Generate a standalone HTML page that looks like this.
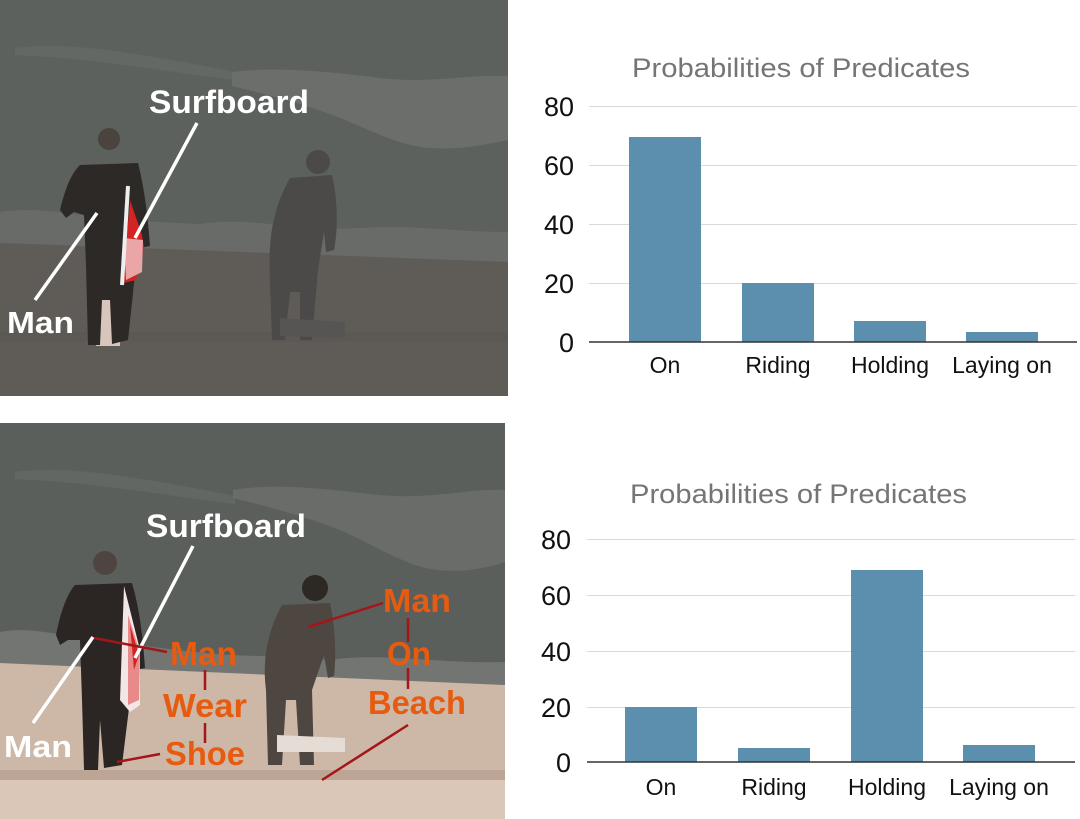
<!DOCTYPE html>
<html>
<head>
<meta charset="utf-8">
<style>
  html,body{margin:0;padding:0;background:#fff;}
  svg{display:block;}
  .ct{font-family:"Liberation Sans",Arial,sans-serif;}
  .lb{font-family:"Liberation Sans",Arial,sans-serif;font-weight:bold;}
</style>
</head>
<body>
<svg width="1080" height="819" viewBox="0 0 1080 819" xmlns="http://www.w3.org/2000/svg">
  <rect x="0" y="0" width="1080" height="819" fill="#ffffff"/>

  <!-- ================= TOP PHOTO ================= -->
  <g>
    <rect x="0" y="0" width="508" height="396" fill="#5d615e"/>
    <!-- thin wave crest left -->
    <path d="M15,48 C60,42 110,50 160,58 C190,63 215,68 235,72 L235,80 C200,76 150,68 100,62 C60,57 30,56 15,55Z" fill="#646865"/>
    <!-- big wave -->
    <path d="M232,72 C280,66 330,72 380,78 C430,84 470,74 508,76 L508,140 C480,146 455,150 430,148 C400,146 370,130 340,118 C305,104 265,94 232,86Z" fill="#6b6e6b"/>
    <!-- foam near horizon -->
    <path d="M0,212 C40,206 80,216 120,220 L200,224 C250,216 300,232 360,228 C410,224 450,232 508,232 L508,262 L0,243Z" fill="#686b68"/>
    <!-- beach -->
    <path d="M0,243 L508,262 L508,396 L0,396Z" fill="#5f5c58"/>
    <rect x="0" y="332" width="508" height="10" fill="#5c5955"/>

    <!-- man 2 faded -->
    <g fill="#4b4a48">
      <circle cx="318" cy="162" r="12"/>
      <path d="M290,178 L332,175 C338,200 338,230 334,250 L326,252 L324,232 L318,270 L312,340 L300,340 L300,292 L290,292 L285,340 L272,340 L270,282 C268,240 272,210 290,178Z"/>
    </g>
    <path d="M280,318 L345,322 L345,338 L280,336Z" fill="#575553"/>

    <!-- man 1 -->
    <path d="M98,255 L122,255 L120,346 L96,346Z" fill="#d8c6bc"/>
    <circle cx="109" cy="139" r="11" fill="#4a433e"/>
    <path d="M80,165 L138,163 C145,190 148,220 150,246 L140,248 L136,218 L136,265 L128,340 L112,344 L110,300 L102,300 L100,345 L88,345 L86,265 L84,215 L74,212 L66,218 L60,210 C65,190 70,175 80,165Z" fill="#2d2926"/>
    <!-- surfboard -->
    <path d="M130,200 L142,235 L144,248 L136,280 L123,283 Z" fill="#d42323"/>
    <path d="M124,238 L143,240 L142,272 L126,280Z" fill="#eaa6a6"/>
    <line x1="128" y1="186" x2="122" y2="285" stroke="#eeeeee" stroke-width="4"/>

    <!-- labels -->
    <line x1="197" y1="123" x2="135" y2="238" stroke="#ffffff" stroke-width="3.5"/>
    <line x1="97" y1="213" x2="35" y2="300" stroke="#ffffff" stroke-width="3.5"/>
    <text class="lb" x="149" y="113" font-size="32" fill="#ffffff" textLength="160" lengthAdjust="spacingAndGlyphs">Surfboard</text>
    <text class="lb" x="7" y="333" font-size="31" fill="#ffffff" textLength="67" lengthAdjust="spacingAndGlyphs">Man</text>
  </g>

  <!-- ================= BOTTOM PHOTO ================= -->
  <g>
    <rect x="0" y="423" width="505" height="396" fill="#5b5f5b"/>
    <path d="M15,472 C60,466 110,474 160,482 C190,487 215,492 235,496 L235,504 C200,500 150,492 100,486 C60,481 30,480 15,479Z" fill="#636763"/>
    <path d="M233,490 C280,482 330,490 380,495 C430,500 470,488 505,490 L505,562 C480,570 455,574 425,568 C395,560 365,540 335,528 C300,515 262,505 233,498Z" fill="#696c69"/>
    <!-- foam -->
    <path d="M0,632 C30,626 60,636 100,640 C150,646 200,655 260,656 L330,660 C380,652 440,664 505,662 L505,685 L0,663Z" fill="#727572"/>
    <!-- sand -->
    <path d="M0,663 L505,685 L505,819 L0,819Z" fill="#cdb7a6"/>
    <rect x="0" y="770" width="505" height="10" fill="#bda595"/>
    <rect x="0" y="780" width="505" height="39" fill="#dbc7b7"/>

    <!-- man 2 -->
    <circle cx="315" cy="588" r="13" fill="#2e2824"/>
    <path d="M282,605 L330,603 C336,630 336,660 334,676 L328,678 L324,655 L312,690 L314,765 L300,765 L296,700 L286,700 L282,765 L268,765 L266,690 C262,660 268,630 282,605Z" fill="#4e4641"/>
    <path d="M277,735 L345,738 L345,752 L277,752Z" fill="#e6dcd6"/>

    <!-- man 1 -->
    <circle cx="105" cy="563" r="12" fill="#4f4540"/>
    <path d="M75,585 L132,583 C140,610 143,640 145,668 L136,670 L132,640 L130,700 L122,765 L104,768 L100,720 L98,770 L84,770 L82,700 L80,640 L68,640 L60,645 L56,635 C60,615 66,595 75,585Z" fill="#2b2623"/>
    <path d="M124,586 L140,650 L140,705 L130,712 L120,700Z" fill="#f2e6e6"/>
    <path d="M128,615 L140,652 L139,700 L128,705Z" fill="#e88a8a"/>
    <path d="M130,625 L139,655 L134,670Z" fill="#d42323"/>

    <!-- white labels -->
    <line x1="193" y1="546" x2="135" y2="658" stroke="#ffffff" stroke-width="3.5"/>
    <line x1="93" y1="637" x2="33" y2="723" stroke="#ffffff" stroke-width="3.5"/>
    <text class="lb" x="146" y="537" font-size="32" fill="#ffffff" textLength="160" lengthAdjust="spacingAndGlyphs">Surfboard</text>
    <text class="lb" x="4" y="757" font-size="31" fill="#ffffff" textLength="68" lengthAdjust="spacingAndGlyphs">Man</text>

    <!-- red connectors -->
    <g stroke="#a3161a" stroke-width="2.5">
      <line x1="94" y1="638" x2="167" y2="652"/>
      <line x1="205" y1="670" x2="205" y2="690"/>
      <line x1="205" y1="723" x2="205" y2="743"/>
      <line x1="117" y1="762" x2="160" y2="754"/>
      <line x1="308" y1="627" x2="383" y2="603"/>
      <line x1="408" y1="618" x2="408" y2="642"/>
      <line x1="408" y1="668" x2="408" y2="689"/>
      <line x1="408" y1="725" x2="322" y2="780"/>
    </g>
    <!-- orange labels -->
    <g class="lb" font-size="33" fill="#e75b10">
      <text x="170" y="665" textLength="67" lengthAdjust="spacingAndGlyphs">Man</text>
      <text x="163" y="717" textLength="84" lengthAdjust="spacingAndGlyphs">Wear</text>
      <text x="165" y="765" textLength="80" lengthAdjust="spacingAndGlyphs">Shoe</text>
      <text x="383" y="612" textLength="68" lengthAdjust="spacingAndGlyphs">Man</text>
      <text x="387" y="665" textLength="44" lengthAdjust="spacingAndGlyphs">On</text>
      <text x="368" y="714" textLength="98" lengthAdjust="spacingAndGlyphs">Beach</text>
    </g>
  </g>

  <!-- ================= TOP CHART ================= -->
  <g class="ct">
    <text x="632" y="77" font-size="27" fill="#757575" textLength="338" lengthAdjust="spacingAndGlyphs">Probabilities of Predicates</text>
    <g stroke="#d9d9d9" stroke-width="1">
      <line x1="589" y1="106.5" x2="1077" y2="106.5"/>
      <line x1="589" y1="165.5" x2="1077" y2="165.5"/>
      <line x1="589" y1="224.5" x2="1077" y2="224.5"/>
      <line x1="589" y1="283.5" x2="1077" y2="283.5"/>
    </g>
    <g fill="#5b8fad">
      <rect x="629" y="137" width="72" height="205"/>
      <rect x="742" y="283" width="72" height="59"/>
      <rect x="854" y="321" width="72" height="21"/>
      <rect x="966" y="332" width="72" height="10"/>
    </g>
    <line x1="589" y1="342" x2="1077" y2="342" stroke="#333333" stroke-width="1.5"/>
    <g font-size="27" fill="#111111" text-anchor="end">
      <text x="574" y="116">80</text>
      <text x="574" y="175">60</text>
      <text x="574" y="234">40</text>
      <text x="574" y="293">20</text>
      <text x="574" y="352">0</text>
    </g>
    <g font-size="23" fill="#111111" text-anchor="middle">
      <text x="665" y="373">On</text>
      <text x="778" y="373">Riding</text>
      <text x="890" y="373">Holding</text>
      <text x="1002" y="373">Laying on</text>
    </g>
  </g>

  <!-- ================= BOTTOM CHART ================= -->
  <g class="ct">
    <text x="630" y="503" font-size="27" fill="#757575" textLength="337" lengthAdjust="spacingAndGlyphs">Probabilities of Predicates</text>
    <g stroke="#d9d9d9" stroke-width="1">
      <line x1="587" y1="539.5" x2="1075" y2="539.5"/>
      <line x1="587" y1="595.5" x2="1075" y2="595.5"/>
      <line x1="587" y1="651.5" x2="1075" y2="651.5"/>
      <line x1="587" y1="707.5" x2="1075" y2="707.5"/>
    </g>
    <g fill="#5b8fad">
      <rect x="625" y="707" width="72" height="55"/>
      <rect x="738" y="748" width="72" height="14"/>
      <rect x="851" y="570" width="72" height="192"/>
      <rect x="963" y="745" width="72" height="17"/>
    </g>
    <line x1="587" y1="762" x2="1075" y2="762" stroke="#333333" stroke-width="1.5"/>
    <g font-size="27" fill="#111111" text-anchor="end">
      <text x="571" y="549">80</text>
      <text x="571" y="605">60</text>
      <text x="571" y="661">40</text>
      <text x="571" y="717">20</text>
      <text x="571" y="772">0</text>
    </g>
    <g font-size="23" fill="#111111" text-anchor="middle">
      <text x="661" y="795">On</text>
      <text x="774" y="795">Riding</text>
      <text x="887" y="795">Holding</text>
      <text x="999" y="795">Laying on</text>
    </g>
  </g>
</svg>
</body>
</html>
